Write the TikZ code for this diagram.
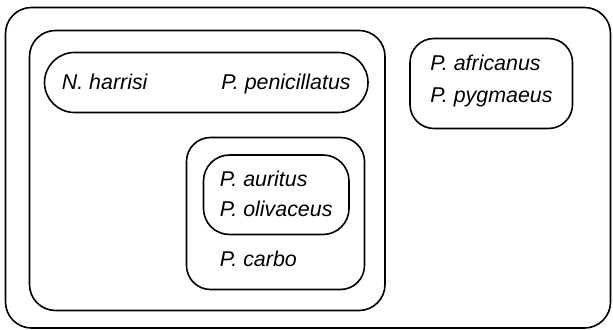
\documentclass[tikz,border=0pt]{standalone}
\usepackage{fontspec}
\setmainfont{Liberation Sans}
\begin{document}
\begin{tikzpicture}[x=0.5pt,y=-0.5pt,
  box/.style={draw=black,line width=0.8pt},
  lbl/.style={anchor=base west,inner sep=0pt,font=\fontsize{10.7}{12}\selectfont\itshape}]
\useasboundingbox (0,0) rectangle (613,330);
% boxes
\draw[box,rounded corners=13pt] (5.5,7.5) rectangle (610.5,328);
\draw[box,rounded corners=13pt] (29.5,30.5) rectangle (385,310.5);
\draw[box,rounded corners=15pt] (44.5,52.5) rectangle (368,112.5);
\draw[box,rounded corners=12pt] (410,38.5) rectangle (572.5,128.5);
\draw[box,rounded corners=12pt] (186.5,137.5) rectangle (364.5,289.5);
\draw[box,rounded corners=13pt] (203.5,155) rectangle (349,234.5);
% labels
\node[lbl] (nh) at (61.5,90) {N. harrisi};
\node[lbl] (pp) at (221,90) {P. penicillatus};
\node[lbl] (paf) at (430,71) {P. africanus};
\node[lbl] (ppy) at (430,102.5) {P. pygmaeus};
\node[lbl] (pau) at (219.5,186.5) {P. auritus};
\node[lbl] (pol) at (219.5,216.5) {P. olivaceus};
\node[lbl] (pca) at (219.5,266.5) {P. carbo};
\end{tikzpicture}
\end{document}
